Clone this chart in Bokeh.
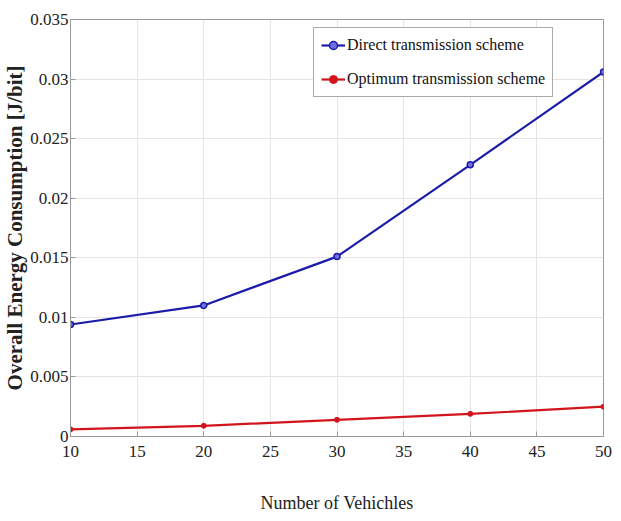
from bokeh.plotting import figure
from bokeh.models import Range1d, FixedTicker, CustomJSTickFormatter, Legend, LegendItem
from bokeh.embed import file_html
from bokeh.resources import INLINE

vehicles = [10, 20, 30, 40, 50]
direct = [0.0094, 0.0110, 0.0151, 0.0228, 0.0306]
optimum = [0.0006, 0.0009, 0.0014, 0.0019, 0.0025]
x_ticks = [10, 15, 20, 25, 30, 35, 40, 45, 50]
y_ticks = [0, 0.005, 0.01, 0.015, 0.02, 0.025, 0.03, 0.035]

FONT = "Times New Roman"

p = figure(frame_width=533, frame_height=417, output_backend="svg", toolbar_location=None,
           x_range=Range1d(10, 50), y_range=Range1d(0, 0.035),
           min_border_left=61, min_border_right=11, min_border_top=19, min_border_bottom=72)

blue = "#1c1caa"
red = "#d2141c"

l1 = p.line(vehicles, direct, line_color=blue, line_width=2.2)
s1 = p.scatter(vehicles, direct, marker="circle", size=6, line_color=blue, fill_color="#7070dc", line_width=1.5)
l2 = p.line(vehicles, optimum, line_color=red, line_width=2.2)
s2 = p.scatter(vehicles, optimum, marker="circle", size=5, line_color=red, fill_color=red)

legend = Legend(items=[LegendItem(label="Direct transmission scheme", renderers=[l1, s1]),
                       LegendItem(label="Optimum transmission scheme", renderers=[l2, s2])],
                location=(243, 339))
legend.label_text_font = FONT
legend.label_text_font_size = "16px"
legend.label_text_color = "#111111"
legend.border_line_color = "#555555"
legend.border_line_width = 1
legend.glyph_width = 24
legend.label_standoff = 2
legend.padding = 7
legend.spacing = 14
legend.margin = 0
legend.background_fill_alpha = 1
p.add_layout(legend)

p.xaxis.ticker = FixedTicker(ticks=x_ticks)
p.yaxis.ticker = FixedTicker(ticks=y_ticks)
p.yaxis.formatter = CustomJSTickFormatter(code="return Number(tick.toFixed(3)).toString();")

for ax in (p.xaxis[0], p.yaxis[0]):
    ax.major_label_text_font = FONT
    ax.major_label_text_font_size = "17px"
    ax.major_label_text_color = "#222222"
    ax.axis_line_color = "#9a9a9a"
    ax.major_tick_line_color = "#9a9a9a"
    ax.major_tick_in = 5
    ax.major_tick_out = 0
    ax.minor_tick_line_color = None
    ax.axis_label_text_font = FONT
    ax.axis_label_text_color = "#222222"

p.xaxis.axis_label = "Number of Vehichles"
p.xaxis.axis_label_text_font_size = "18px"
p.xaxis.axis_label_text_font_style = "normal"
p.xaxis.axis_label_standoff = 33
p.xaxis.major_label_standoff = 9

p.yaxis.axis_label = "Overall Energy Consumption [J/bit]"
p.yaxis.axis_label_text_font_size = "21px"
p.yaxis.axis_label_text_font_style = "bold"
p.yaxis.axis_label_standoff = 0
p.yaxis.major_label_standoff = 2

p.xgrid.grid_line_color = "#e4e4e4"
p.ygrid.grid_line_color = "#e4e4e4"
p.outline_line_color = "#9a9a9a"
p.outline_line_width = 1

open("out.html", "w").write(file_html(p, INLINE))
